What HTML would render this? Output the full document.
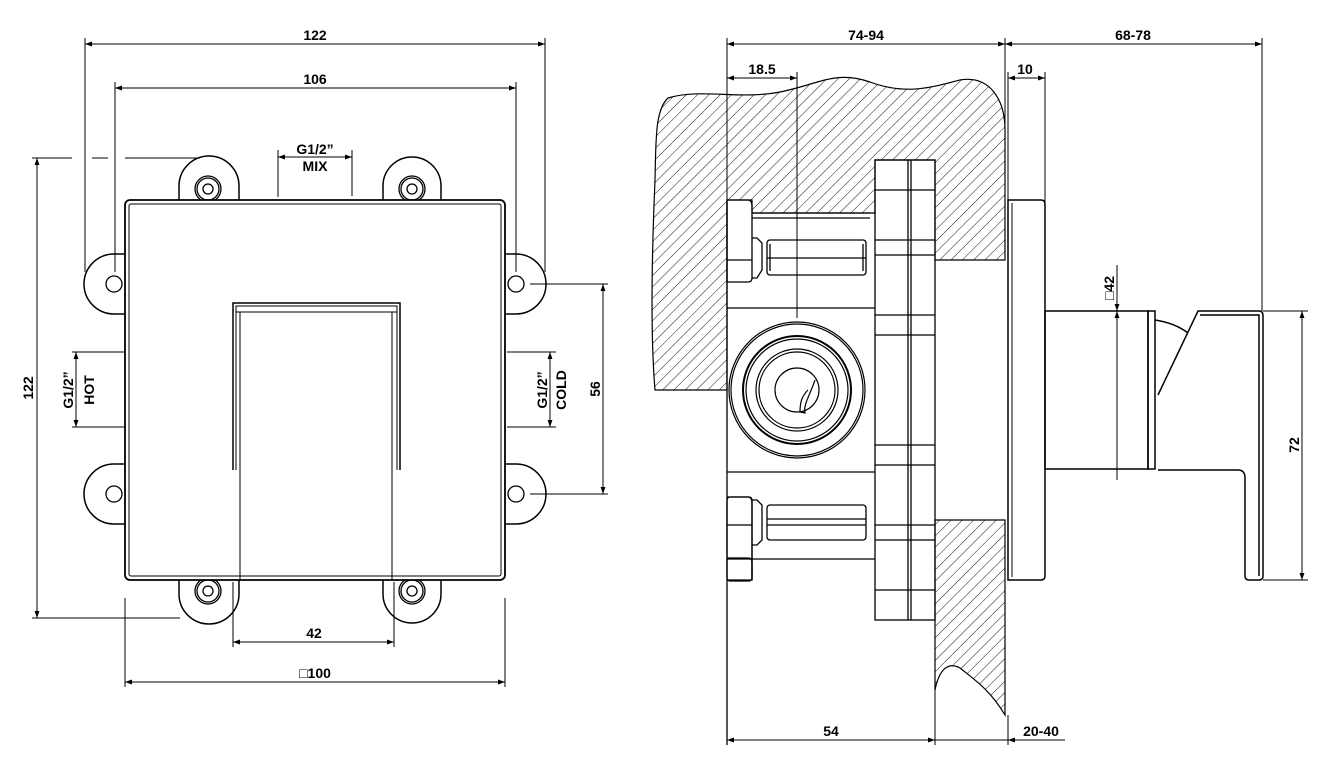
<!DOCTYPE html>
<html><head><meta charset="utf-8"><style>
html,body{margin:0;padding:0;background:#fff}
svg{display:block}
text{font-family:"Liberation Sans",sans-serif;font-weight:bold;font-size:14px;fill:#000}
</style></head><body>
<svg width="1324" height="758" viewBox="0 0 1324 758" xmlns="http://www.w3.org/2000/svg">
<defs>
<pattern id="h" width="8" height="8" patternUnits="userSpaceOnUse" patternTransform="rotate(45)">
<line x1="0" y1="0" x2="0" y2="8" stroke="#000" stroke-width="0.9"/>
</pattern>
<marker id="a" viewBox="0 0 10 10" refX="10" refY="5" markerWidth="9" markerHeight="7" orient="auto-start-reverse" markerUnits="userSpaceOnUse"><path d="M0,1.5 L10,5 L0,8.5z" fill="#000"/></marker>
</defs>
<g fill="none" stroke="#000" stroke-width="1">
<!-- LEFT VIEW -->
<!-- ears -->
<g stroke-width="1.5">
<path d="M179,200 V186 A29,29 0 0 1 239,186 V200"/>
<path d="M383,200 V186 A29,29 0 0 1 441,186 V200"/>
<path d="M179,580 V594 A29,29 0 0 0 239,594 V580"/>
<path d="M383,580 V594 A29,29 0 0 0 441,594 V580"/>
<path d="M125,254 H114 A30,30 0 0 0 114,314 H125"/>
<path d="M125,464 H114 A30,30 0 0 0 114,524 H125"/>
<path d="M505,254 H516 A30,30 0 0 1 516,314 H505"/>
<path d="M505,464 H516 A30,30 0 0 1 516,524 H505"/>
</g>
<g stroke-width="1.3">
<circle cx="208" cy="189" r="13"/><circle cx="208" cy="189" r="11"/><circle cx="208" cy="189" r="5"/>
<circle cx="412" cy="189" r="13"/><circle cx="412" cy="189" r="11"/><circle cx="412" cy="189" r="5"/>
<circle cx="208" cy="591" r="13"/><circle cx="208" cy="591" r="11"/><circle cx="208" cy="591" r="5"/>
<circle cx="412" cy="591" r="13"/><circle cx="412" cy="591" r="11"/><circle cx="412" cy="591" r="5"/>
<circle cx="114" cy="284" r="8"/><circle cx="114" cy="494" r="8"/>
<circle cx="516" cy="284" r="8"/><circle cx="516" cy="494" r="8"/>
</g>
<!-- plate -->
<rect x="125" y="200" width="380" height="380" rx="5" fill="#fff" stroke-width="1.8"/>
<rect x="129" y="204" width="372" height="372" rx="2"/>
<!-- lever -->
<path d="M233,470 V303 H400 V470" stroke-width="1.5"/>
<path d="M236,470 V306 H397 V470"/>
<path d="M236,312 H397"/>
<path d="M240,312 V580 M392,312 V580"/>
<!-- left dims -->
<line x1="85" y1="44" x2="545" y2="44" marker-start="url(#a)" marker-end="url(#a)"/>
<line x1="85" y1="38" x2="85" y2="272"/><line x1="545" y1="38" x2="545" y2="272"/>
<line x1="115" y1="88" x2="516" y2="88" marker-start="url(#a)" marker-end="url(#a)"/>
<line x1="115" y1="82" x2="115" y2="272"/><line x1="516" y1="82" x2="516" y2="272"/>
<line x1="278" y1="157" x2="352" y2="157" marker-start="url(#a)" marker-end="url(#a)"/>
<line x1="278" y1="150" x2="278" y2="197"/><line x1="352" y1="150" x2="352" y2="196"/>
<line x1="37" y1="158" x2="37" y2="618" marker-start="url(#a)" marker-end="url(#a)"/>
<path d="M32,158 H72 M92,158 H108 M125,158 H200"/>
<line x1="32" y1="618" x2="180" y2="618"/>
<line x1="76" y1="352" x2="76" y2="427" marker-start="url(#a)" marker-end="url(#a)"/>
<line x1="72" y1="352" x2="124" y2="352"/><line x1="72" y1="427" x2="124" y2="427"/>
<line x1="550" y1="352" x2="550" y2="427" marker-start="url(#a)" marker-end="url(#a)"/>
<line x1="507" y1="352" x2="556" y2="352"/><line x1="507" y1="427" x2="556" y2="427"/>
<line x1="603" y1="284" x2="603" y2="494" marker-start="url(#a)" marker-end="url(#a)"/>
<line x1="530" y1="284" x2="608" y2="284"/><line x1="530" y1="494" x2="608" y2="494"/>
<line x1="233" y1="642" x2="394" y2="642" marker-start="url(#a)" marker-end="url(#a)"/>
<line x1="233" y1="582" x2="233" y2="647"/><line x1="394" y1="582" x2="394" y2="647"/>
<line x1="125" y1="682" x2="505" y2="682" marker-start="url(#a)" marker-end="url(#a)"/>
<line x1="125" y1="598" x2="125" y2="687"/><line x1="505" y1="598" x2="505" y2="687"/>

<!-- RIGHT VIEW -->
<!-- wall hatch top -->
<path d="M668,98 C700,88 740,100 780,92 C820,84 835,70 870,82 C905,95 930,88 960,80 C990,75 1005,100 1005,130 V260 H935 V160 H875 V213 H752 V200 H727 V390 H655 C650,330 652,250 655,180 C656,140 655,110 668,98 Z" fill="url(#h)" stroke-width="1.2"/>
<path d="M935,520 H1005 V715 C990,690 975,680 960,668 C945,660 938,675 935,690 Z" fill="url(#h)" stroke-width="1.2"/>
<!-- box -->
<g stroke-width="1.3">
<path d="M752,213 H870 M752,218 H870"/>
<path d="M727,308 H875 M727,472 H875 M727,559 H875"/>
<path d="M727,200 H748 Q752,200 752,206 V278 Q752,282 748,282 H727 Z"/>
<path d="M727,558 H748 Q752,558 752,562 V580 H727"/>
<path d="M727,497 H748 Q752,497 752,503 V580"/>
<rect x="727" y="497" width="25" height="84" rx="3"/>
<line x1="727" y1="260" x2="752" y2="260"/><line x1="727" y1="525" x2="752" y2="525"/>
<path d="M752,238 H757 L762,243 V270 L757,278 H752"/>
<path d="M752,500 H757 L762,505 V540 L757,545 H752"/>
<rect x="767" y="240" width="99" height="35" rx="3"/>
<line x1="767" y1="258" x2="866" y2="258"/><line x1="770" y1="244" x2="770" y2="271"/><line x1="863" y1="244" x2="863" y2="271"/>
<rect x="767" y="505" width="99" height="35" rx="3"/>
<line x1="767" y1="519" x2="866" y2="519"/><line x1="767" y1="525" x2="866" y2="525"/>
<line x1="727" y1="200" x2="727" y2="585"/>
<line x1="727" y1="585" x2="727" y2="745"/>
</g>
<!-- circle -->
<g stroke-width="1.2">
<circle cx="797" cy="390" r="68"/><circle cx="797" cy="390" r="66"/>
<circle cx="797" cy="390" r="54" stroke-width="2"/><circle cx="797" cy="390" r="51"/>
<circle cx="797" cy="390" r="41"/><circle cx="797" cy="390" r="38"/>
<circle cx="797" cy="390" r="22"/>
<path d="M815,380 C810,395 803,405 805,413 L800,412 C800,402 802,396 808,390"/>
</g>
<!-- plate -->
<g stroke-width="1.3">
<rect x="875" y="160" width="60" height="460"/>
<line x1="908" y1="160" x2="908" y2="620"/><line x1="911" y1="160" x2="911" y2="620"/>
<path d="M875,190 H935 M875,240 H935 M875,255 H935 M875,315 H935 M875,335 H935 M875,445 H935 M875,465 H935 M875,525 H935 M875,540 H935 M875,590 H935"/>
</g>
<!-- cover -->
<path d="M1008,200 H1041 Q1045,200 1045,204 V576 Q1045,580 1041,580 H1008 Z" stroke-width="1.5"/>
<line x1="1012" y1="203" x2="1012" y2="577"/>
<!-- stem/handle -->
<g stroke-width="1.5">
<rect x="1045" y="311" width="103" height="158"/>
<rect x="1148" y="311" width="7" height="158"/>
<path d="M1155,320 Q1175,323 1188,333"/>
<path d="M1158,395 L1198,311 H1259 Q1263,311 1263,316 V576 Q1263,580 1259,580 H1249 Q1245,580 1245,576 V478 Q1245,470 1238,470 H1158"/>
<path d="M1200,315 H1259 V576"/>
</g>
<!-- right dims -->
<line x1="727" y1="44" x2="1005" y2="44" marker-start="url(#a)" marker-end="url(#a)"/>
<line x1="1005" y1="44" x2="1262" y2="44" marker-start="url(#a)" marker-end="url(#a)"/>
<line x1="727" y1="38" x2="727" y2="200"/><line x1="1005" y1="38" x2="1005" y2="150"/><line x1="1262" y1="38" x2="1262" y2="311"/>
<line x1="727" y1="78" x2="797" y2="78" marker-start="url(#a)" marker-end="url(#a)"/>
<line x1="797" y1="72" x2="797" y2="318"/>
<line x1="1008" y1="78" x2="1045" y2="78" marker-start="url(#a)" marker-end="url(#a)"/>
<line x1="1008" y1="72" x2="1008" y2="200"/><line x1="1045" y1="72" x2="1045" y2="311"/>
<line x1="1117" y1="265" x2="1117" y2="311" marker-end="url(#a)"/>
<line x1="1117" y1="311" x2="1117" y2="480" marker-start="url(#a)"/>
<line x1="1302" y1="311" x2="1302" y2="580" marker-start="url(#a)" marker-end="url(#a)"/>
<line x1="1263" y1="311" x2="1308" y2="311"/><line x1="1263" y1="580" x2="1308" y2="580"/>
<line x1="727" y1="740" x2="935" y2="740" marker-start="url(#a)" marker-end="url(#a)"/>
<line x1="935" y1="690" x2="935" y2="745"/>
<line x1="1008" y1="715" x2="1008" y2="745"/>
<line x1="935" y1="740" x2="1008" y2="740"/>
<line x1="1008" y1="740" x2="1065" y2="740" marker-start="url(#a)"/>
</g>
<!-- texts -->
<text x="315" y="40" text-anchor="middle">122</text>
<text x="315" y="84" text-anchor="middle">106</text>
<text x="315" y="154" text-anchor="middle" font-size="13">G1/2”</text>
<text x="315" y="171" text-anchor="middle" font-size="13">MIX</text>
<text transform="translate(33,388) rotate(-90)" text-anchor="middle">122</text>
<text transform="translate(73,390) rotate(-90)" text-anchor="middle" font-size="13">G1/2”</text>
<text transform="translate(94,390) rotate(-90)" text-anchor="middle" font-size="13">HOT</text>
<text transform="translate(547,390) rotate(-90)" text-anchor="middle" font-size="13">G1/2”</text>
<text transform="translate(566,390) rotate(-90)" text-anchor="middle" font-size="13">COLD</text>
<text transform="translate(600,389) rotate(-90)" text-anchor="middle">56</text>
<text x="314" y="638" text-anchor="middle">42</text>
<text x="315" y="678" text-anchor="middle">□100</text>
<text x="866" y="40" text-anchor="middle">74-94</text>
<text x="1133" y="40" text-anchor="middle">68-78</text>
<text x="762" y="74" text-anchor="middle">18.5</text>
<text x="1025" y="74" text-anchor="middle">10</text>
<text transform="translate(1114,288) rotate(-90)" text-anchor="middle">□42</text>
<text transform="translate(1299,445) rotate(-90)" text-anchor="middle">72</text>
<text x="831" y="736" text-anchor="middle">54</text>
<text x="1041" y="736" text-anchor="middle">20-40</text>
</svg>
</body></html>
